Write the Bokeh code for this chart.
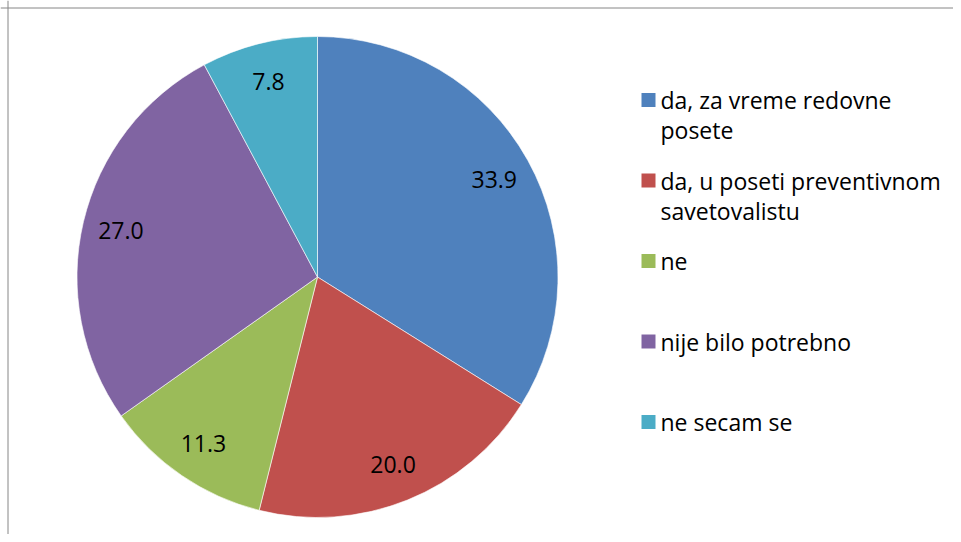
import numpy as np
from bokeh.plotting import figure
from bokeh.models import ColumnDataSource, Range1d, Span
from bokeh.core.properties import value
from bokeh.embed import file_html
from bokeh.resources import INLINE

# ---- data ----
categories = ["da, za vreme redovne posete",
              "da, u poseti preventivnom savetovalistu",
              "ne",
              "nije bilo potrebno",
              "ne secam se"]
legend_labels = ["da, za vreme redovne\nposete",
                 "da, u poseti preventivnom\nsavetovalistu",
                 "ne",
                 "nije bilo potrebno",
                 "ne secam se"]
values = [33.9, 20.0, 11.3, 27.0, 7.8]
colors = ["#4F81BD", "#C0504D", "#9BBB59", "#8064A2", "#4BACC6"]

# ---- layout (pixel-like data space) ----
W, H = 953, 534
cx, cy, R = 317, H - 276.5, 240.5
label_r = 0.84 * R
FONT = "Open Sans"

vals = np.array(values, dtype=float)
frac = vals / vals.sum()
cum = np.concatenate([[0.0], np.cumsum(frac)])
start = np.pi / 2 - cum[:-1] * 2 * np.pi
end = np.pi / 2 - cum[1:] * 2 * np.pi
mid = np.pi / 2 - (cum[:-1] + frac / 2) * 2 * np.pi

src = ColumnDataSource(dict(
    cat=categories, val=values, color=colors,
    start=start, end=end,
    lx=cx + label_r * np.cos(mid), ly=cy + label_r * np.sin(mid),
    txt=[f"{v:.1f}" for v in values],
))

n = len(categories)
leg_top = H - 99.5
leg_step = 80.5
leg = ColumnDataSource(dict(
    y=[leg_top - i * leg_step for i in range(n)],
    x=[648] * n, tx=[660] * n,
    color=colors, label=legend_labels,
))

p = figure(width=W, height=H, output_backend="svg", toolbar_location=None,
           x_range=Range1d(0, W), y_range=Range1d(0, H), min_border=0)
p.axis.visible = False
p.grid.visible = False
p.outline_line_color = None
p.background_fill_color = "white"
p.border_fill_color = "white"

p.wedge(x=cx, y=cy, radius=R, start_angle="start", end_angle="end",
        direction="clock", fill_color="color", line_color="white",
        line_width=0.6, source=src)

p.text(x="lx", y="ly", text="txt", source=src, text_font=value(FONT),
       text_font_size="23px", text_align="center", text_baseline="middle",
       text_color="black")

p.scatter(x="x", y="y", marker="square", size=14, fill_color="color",
          line_color=None, source=leg)
p.text(x="tx", y="y", text="label", source=leg, text_font=value(FONT),
       text_font_size="23px", text_align="left", text_baseline="top",
       y_offset=-16, text_line_height=0.95, text_color="black")

p.add_layout(Span(location=7.5, dimension="height", line_color="#868686", line_width=1))
p.add_layout(Span(location=H - 7.5, dimension="width", line_color="#868686", line_width=1))

open("out.html", "w").write(file_html(p, INLINE))
